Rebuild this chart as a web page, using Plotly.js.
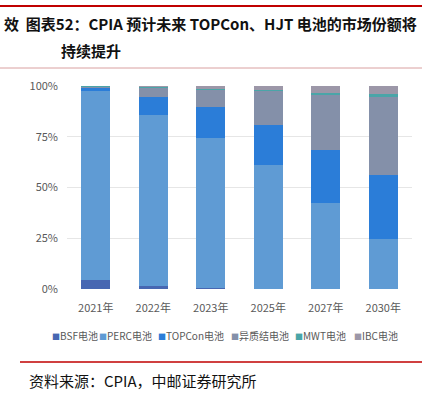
<!DOCTYPE html>
<html>
<head>
<meta charset="utf-8">
<script src="https://cdn.plot.ly/plotly-3.0.1.min.js"></script>
<style>html,body{margin:0;padding:0;background:#fff;}#chart{width:435px;height:398px;}</style>
</head>
<body>
<div id="chart"></div>
<script>
// ---- data ----
const years = ['2021年','2022年','2023年','2025年','2027年','2030年'];
const seriesNames = ['BSF电池','PERC电池','TOPCon电池','异质结电池','MWT电池','IBC电池'];
const bsf    = [4.5, 1.5, 0.5, 0.0, 0.0, 0.0];
const perc   = [93.0, 84.2, 74.0, 61.0, 42.5, 24.5];
const topcon = [1.5, 8.7, 15.0, 19.8, 26.0, 31.5];
const hjt    = [0.5, 4.5, 8.5, 16.5, 27.0, 38.5];
const mwt    = [0.3, 0.5, 0.5, 0.7, 1.0, 1.5];
const ibc    = [0.2, 0.6, 1.5, 2.0, 3.5, 4.0];
const yTicks = [0, 25, 50, 75, 100];
const titleLine1 = '效  图表52：CPIA 预计未来 TOPCon、HJT 电池的市场份额将';
const titleLine2 = '持续提升';
const sourceText = '资料来源：CPIA，中邮证券研究所';

// ---- style ----
const colors = ['#4767b2','#5f9bd4','#2b7dd8','#8490a9','#4aa5a8','#9c97a8'];
const allSeries = [bsf, perc, topcon, hjt, mwt, ibc];

const traces = allSeries.map((vals, i) => ({
  type: 'bar', x: years, y: vals, name: seriesNames[i],
  marker: {color: colors[i], line: {width: 0}}, hoverinfo: 'skip'
}));

// geometry helpers (plot area: left 67, top 86, width 345, height 203)
const L = 67, T = 86, W = 345, H = 203;
const px = x => (x - L) / W;
const py = y => 1 - (y - T) / H;

const cjk = '"Noto Sans CJK SC", "Noto Sans", sans-serif';
const annotations = [
  {text: titleLine1, x: px(2), y: py(23), xanchor: 'left', yanchor: 'middle',
   font: {family: cjk, size: 15, color: '#111', weight: 700}},
  {text: titleLine2, x: px(59), y: py(51), xanchor: 'left', yanchor: 'middle',
   font: {family: cjk, size: 15, color: '#111', weight: 700}},
  {text: sourceText, x: px(27), y: py(380), xanchor: 'left', yanchor: 'middle',
   font: {family: cjk, size: 15, color: '#111'}}
];
const legendX = [50, 97, 156, 229, 293, 352];
seriesNames.forEach((n, i) => {
  annotations.push({
    text: '<span style="color:' + colors[i] + ';font-size:8px">■</span>' + n,
    x: px(legendX[i]), y: py(335), xanchor: 'left', yanchor: 'middle',
    font: {family: cjk, size: 10, color: '#595959'}
  });
});
annotations.forEach(a => { a.xref = 'paper'; a.yref = 'paper'; a.showarrow = false; });

const shapes = [
  {type: 'line', x0: px(0), x1: px(422), y0: py(6), y1: py(6), line: {color: '#c00000', width: 2}},
  {type: 'line', x0: px(0), x1: px(422), y0: py(68), y1: py(68), line: {color: '#d9a0a0', width: 1}},
  {type: 'line', x0: px(20), x1: px(422), y0: py(362), y1: py(362), line: {color: '#c00000', width: 1.5}}
].map(s => Object.assign(s, {xref: 'paper', yref: 'paper'}));

const layout = {
  width: 435, height: 398,
  margin: {l: L, r: 435 - L - W, t: T, b: 398 - T - H, pad: 0},
  paper_bgcolor: '#fff', plot_bgcolor: '#fff',
  barmode: 'stack', bargap: 0.5,
  showlegend: false,
  font: {family: cjk, size: 11, color: '#595959'},
  xaxis: {type: 'category', showgrid: false, zeroline: false, showline: false,
          ticks: '', ticklabelstandoff: 11, tickfont: {size: 11, color: '#595959'}, fixedrange: true},
  yaxis: {range: [0, 100], tickvals: yTicks, ticktext: yTicks.map(v => v + '%'),
          showgrid: true, gridcolor: '#e6e6e6', gridwidth: 1, zeroline: false,
          showline: false, ticks: '', ticklabelstandoff: 8, tickfont: {size: 11, color: '#595959'}, fixedrange: true},
  annotations: annotations,
  shapes: shapes
};

Plotly.newPlot('chart', traces, layout, {staticPlot: true, displayModeBar: false});
</script>
</body>
</html>
